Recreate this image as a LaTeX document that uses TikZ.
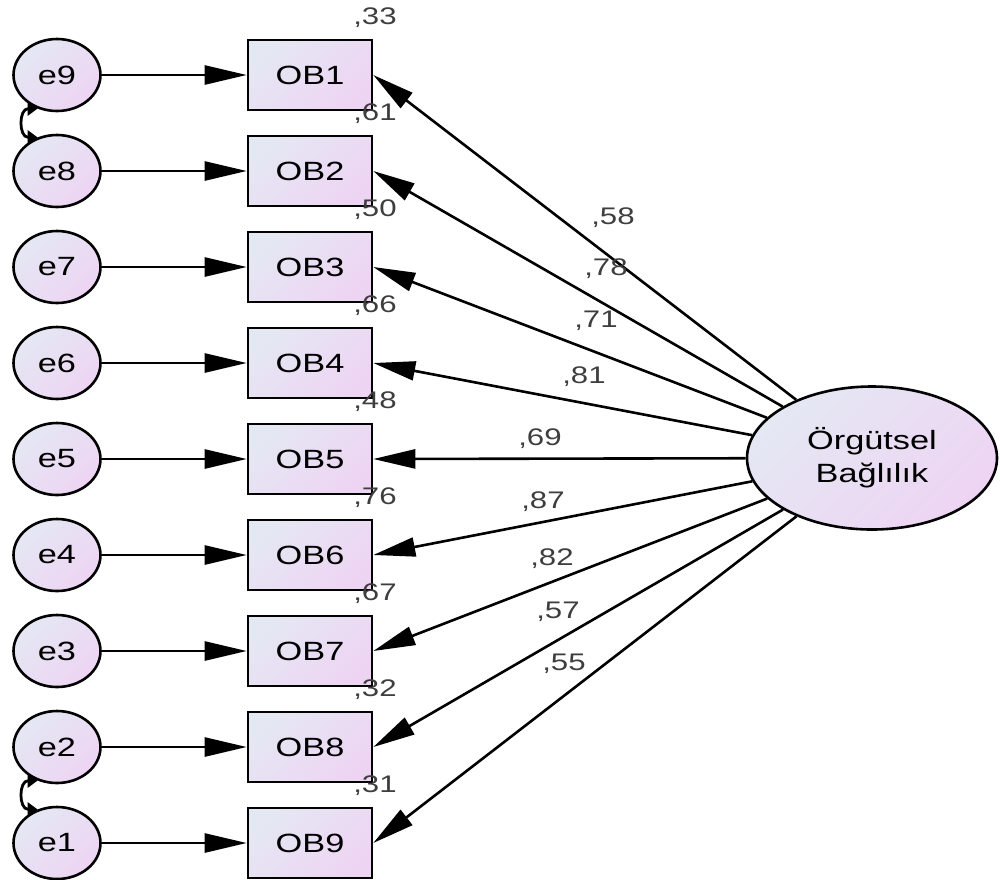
\documentclass[tikz,border=0pt]{standalone}
\usepackage{fontspec}
\setmainfont{Liberation Sans}[FakeStretch=1.3]
\usetikzlibrary{arrows.meta}
\usetikzlibrary{shapes.geometric}
\definecolor{semtop}{RGB}{228,232,243}
\definecolor{sembot}{RGB}{238,212,243}
\definecolor{labgray}{RGB}{62,62,62}
\tikzset{errnode/.style={draw, line width=1.3pt, ellipse, minimum width=43.5pt, minimum height=36pt, inner sep=0pt, top color=semtop, bottom color=sembot, shading angle=45, font=\fontsize{13.2}{15}\selectfont}}
\tikzset{obsbox/.style={draw, line width=1.3pt, rectangle, minimum width=62pt, minimum height=35pt, inner sep=0pt, top color=semtop, bottom color=sembot, shading angle=45, font=\fontsize{13.2}{15}\selectfont}}
\tikzset{latnode/.style={draw, line width=1.3pt, ellipse, minimum width=125pt, minimum height=71.5pt, inner sep=0pt, align=center, top color=semtop, bottom color=sembot, shading angle=45, font=\fontsize{13.2}{16.5}\selectfont}}
\tikzset{patharrow/.style={line width=1.3pt, -{Triangle[length=21pt,width=9.5pt]}}}
\tikzset{covarrow/.style={line width=1.4pt, {Triangle[length=5pt,width=7pt]}-{Triangle[length=5pt,width=7pt]}}}
\tikzset{numlabel/.style={text=labgray, inner sep=0pt, font=\fontsize{12}{13}\selectfont}}

\begin{document}
\begin{tikzpicture}[x=0.5pt, y=-0.5pt, thick]
				\useasboundingbox (0,0) rectangle (1000,879);
				%
				\node[errnode] (e9) at (57,75) {e9};
				\node[errnode] (e8) at (57,171) {e8};
				\node[errnode] (e7) at (57,267) {e7};
				\node[errnode] (e6) at (57,363) {e6};
				\node[errnode] (e5) at (57,459) {e5};
				\node[errnode] (e4) at (57,555) {e4};
				\node[errnode] (e3) at (57,651) {e3};
				\node[errnode] (e2) at (57,747) {e2};
				\node[errnode] (e1) at (57,843) {e1};
				%
				\node[obsbox] (ob1) at (310,75) {OB1};
				\node[obsbox] (ob2) at (310,171) {OB2};
				\node[obsbox] (ob3) at (310,267) {OB3};
				\node[obsbox] (ob4) at (310,363) {OB4};
				\node[obsbox] (ob5) at (310,459) {OB5};
				\node[obsbox] (ob6) at (310,555) {OB6};
				\node[obsbox] (ob7) at (310,651) {OB7};
				\node[obsbox] (ob8) at (310,747) {OB8};
				\node[obsbox] (ob9) at (310,843) {OB9};
				%
				\node[latnode] (ob) at (872,458) {Örgütsel\\Bağlılık};
				%
				\draw[patharrow] (e9) -- (ob1);
				\draw[patharrow] (e8) -- (ob2);
				\draw[patharrow] (e7) -- (ob3);
				\draw[patharrow] (e6) -- (ob4);
				\draw[patharrow] (e5) -- (ob5);
				\draw[patharrow] (e4) -- (ob6);
				\draw[patharrow] (e3) -- (ob7);
				\draw[patharrow] (e2) -- (ob8);
				\draw[patharrow] (e1) -- (ob9);
				%
				\draw[patharrow] (ob) -- (ob1.east);
				\draw[patharrow] (ob) -- (ob2.east);
				\draw[patharrow] (ob) -- (ob3.east);
				\draw[patharrow] (ob) -- (ob4.east);
				\draw[patharrow] (ob) -- (ob5.east);
				\draw[patharrow] (ob) -- (ob6.east);
				\draw[patharrow] (ob) -- (ob7.east);
				\draw[patharrow] (ob) -- (ob8.east);
				\draw[patharrow] (ob) -- (ob9.east);
				%
				\draw[covarrow] (e9.240) to[bend right=90, looseness=1.7] (e8.120);
				\draw[covarrow] (e2.240) to[bend right=90, looseness=1.7] (e1.120);
				%
				\node[numlabel] (r1) at (375,18) {,33};
				\node[numlabel] (r2) at (375,114) {,61};
				\node[numlabel] (r3) at (375,210) {,50};
				\node[numlabel] (r4) at (375,306) {,66};
				\node[numlabel] (r5) at (375,402) {,48};
				\node[numlabel] (r6) at (375,498) {,76};
				\node[numlabel] (r7) at (375,594) {,67};
				\node[numlabel] (r8) at (375,690) {,32};
				\node[numlabel] (r9) at (375,786) {,31};
				%
				\node[numlabel] (l1) at (613,218) {,58};
				\node[numlabel] (l2) at (606,269) {,78};
				\node[numlabel] (l3) at (596,321) {,71};
				\node[numlabel] (l4) at (584,377) {,81};
				\node[numlabel] (l5) at (540,439) {,69};
				\node[numlabel] (l6) at (543,502) {,87};
				\node[numlabel] (l7) at (552,559) {,82};
				\node[numlabel] (l8) at (558,612) {,57};
				\node[numlabel] (l9) at (564,664) {,55};
			\end{tikzpicture}
\end{document}
